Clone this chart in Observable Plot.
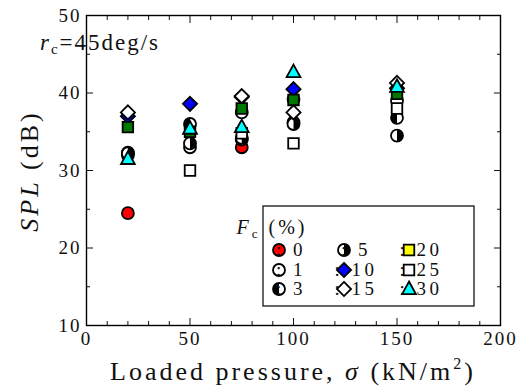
<!DOCTYPE html>
<html><head><meta charset="utf-8">
<script src="https://cdn.jsdelivr.net/npm/d3@7"></script>
<script src="https://cdn.jsdelivr.net/npm/@observablehq/plot@0.6"></script>
<style>
body{margin:0;background:#fff;}
</style></head><body><div id="chart"></div>
<script>
// ---- data ----
const pressure = [20, 50, 75, 100, 150];
const fcLabels = ["0", "1", "3", "5", "10", "15", "20", "25", "30"];
const fc0  = [24.5, null, 33.0, null, null];
const fc1  = [32.3, 33.0, 37.5, 39.2, 39.0];
const fc3  = [32.0, 36.0, 34.0, 36.2, 36.8];
const fc5  = [32.2, 33.5, 34.2, 36.0, 34.5];
const fc10 = [37.0, 38.6, 39.5, 40.5, 40.6];
const fc15 = [37.5, null, 39.6, 37.5, 41.3];
const fc20 = [35.6, 35.0, 38.0, 39.1, 39.9];
const fc25 = [null, 30.0, 34.8, 33.5, 38.0];
const fc30 = [31.5, 35.4, 35.6, 42.7, 40.8];
const xMajor = [0, 50, 100, 150, 200];
const xMinor = d3.range(10, 200, 10).filter(v => v % 50 !== 0);
const yMajor = [10, 20, 30, 40, 50];
const yMinor = [15, 25, 35, 45];

// ---- styles ----
const FONT = "Liberation Serif";
const R = 6, SW = 1.8;
function mk(f){ return {draw(c, size){ const r = Math.sqrt(size/Math.PI); f(c, r); }}; }
const SYM = {
  circle: mk((c,r)=>{ c.moveTo(r,0); c.arc(0,0,r,0,2*Math.PI); c.closePath(); }),
  halfL: mk((c,r)=>{ c.moveTo(0,-r); c.arc(0,0,r,-Math.PI/2,Math.PI/2,true); c.closePath(); }),
  halfR: mk((c,r)=>{ c.moveTo(0,-r); c.arc(0,0,r,-Math.PI/2,Math.PI/2,false); c.closePath(); }),
  diamond: mk((c,r)=>{ const d=r*1.18; c.moveTo(0,-d); c.lineTo(d,0); c.lineTo(0,d); c.lineTo(-d,0); c.closePath(); }),
  square: mk((c,r)=>{ const h=r*0.88; c.moveTo(-h,-h); c.lineTo(h,-h); c.lineTo(h,h); c.lineTo(-h,h); c.closePath(); }),
  triangle: mk((c,r)=>{ c.moveTo(0,-r*1.25); c.lineTo(r*1.15,r*0.85); c.lineTo(-r*1.15,r*0.85); c.closePath(); })
};
const style = {
  "0":  {shape:"circle", fill:"#ff0000"},
  "1":  {shape:"circle", fill:"#ffffff"},
  "3":  {shape:"circle", fill:"#ffffff", half:"halfL"},
  "5":  {shape:"circle", fill:"#ffffff", half:"halfR"},
  "10": {shape:"diamond", fill:"#0000ff"},
  "15": {shape:"diamond", fill:"#ffffff"},
  "20": {shape:"square", fill:"#007800", legendFill:"#ffff00"},
  "25": {shape:"square", fill:"#ffffff"},
  "30": {shape:"triangle", fill:"#00ffff"}
};
const valuesByFc = {"0":fc0,"1":fc1,"3":fc3,"5":fc5,"10":fc10,"15":fc15,"20":fc20,"25":fc25,"30":fc30};

const marks = [];
for (const fc of fcLabels) {
  const rows = pressure.map((p,j)=>({x:p, y:valuesByFc[fc][j]})).filter(d=>d.y!=null);
  const s = style[fc];
  marks.push(Plot.dot(rows, {x:"x", y:"y", r:R, symbol:SYM[s.shape], fill:s.fill, stroke:"black", strokeWidth:SW}));
  if (s.half) marks.push(Plot.dot(rows, {x:"x", y:"y", r:R, symbol:SYM[s.half], fill:"black"}));
}

const plot = Plot.plot({
  width: 520, height: 388,
  marginLeft: 86, marginRight: 20, marginTop: 15, marginBottom: 63,
  x: {domain: [0, 200]},
  y: {domain: [10, 50]},
  style: {fontFamily: FONT, background: "white", color: "#111"},
  marks: [
    Plot.axisX(xMajor, {tickSize: -7, tickFormat: () => "", label: null}),
    Plot.axisX(xMinor, {tickSize: -4, tickFormat: () => "", label: null}),
    Plot.axisX(xMajor, {anchor: "top", tickSize: -7, tickFormat: () => "", label: null}),
    Plot.axisX(xMinor, {anchor: "top", tickSize: -4, tickFormat: () => "", label: null}),
    Plot.axisY(yMajor, {tickSize: -7, tickFormat: () => "", label: null}),
    Plot.axisY(yMinor, {tickSize: -4, tickFormat: () => "", label: null}),
    Plot.axisY(yMajor, {anchor: "right", tickSize: -7, tickFormat: () => "", label: null}),
    Plot.axisY(yMinor, {anchor: "right", tickSize: -4, tickFormat: () => "", label: null}),
    Plot.axisX(xMajor, {tickSize: 0, tickPadding: 6, fontSize: 19, fontFamily: FONT, label: null}),
    Plot.axisY(yMajor, {tickSize: 0, tickPadding: 5, fontSize: 19, fontFamily: FONT, label: null}),
    ...marks,
    Plot.frame({stroke: "black", strokeWidth: 1.4})
  ]
});
document.getElementById("chart").appendChild(plot);
d3.select(plot).selectAll("[aria-label='x-axis tick label'] text, [aria-label='y-axis tick label'] text")
  .attr("font-family", FONT).style("letter-spacing", "2px");

// ---- annotations ----
const svg = d3.select(plot);
const g = svg.append("g").attr("fill", "#111");
function txt(parent, x, y, size) {
  return parent.append("text").attr("x", x).attr("y", y).attr("font-family", FONT)
    .attr("font-size", size).style("letter-spacing", "3px");
}

const ann = txt(g, 100, 50, 23).style("letter-spacing", "2px");
ann.append("tspan").attr("font-style", "italic").text("r");
ann.append("tspan").attr("font-size", 15).attr("dy", 4).text("c");
ann.append("tspan").attr("dy", -4).text("=45deg/s");

const xl = txt(g, 293, 380, 26).attr("text-anchor", "middle");
xl.append("tspan").text("Loaded pressure, ");
xl.append("tspan").attr("font-style", "italic").text("σ");
xl.append("tspan").text(" (kN/m");
xl.append("tspan").attr("font-size", 16).attr("dy", -11).text("2");
xl.append("tspan").attr("dy", 11).text(")");

const yl = txt(g, 0, 0, 26).attr("transform", "translate(38,171) rotate(-90)").attr("text-anchor", "middle");
yl.append("tspan").attr("font-style", "italic").text("SPL");
yl.append("tspan").text(" (dB)");

// ---- legend ----
const lg = g.append("g");
lg.append("rect").attr("x", 263).attr("y", 206).attr("width", 211).attr("height", 100).attr("fill", "white").attr("stroke", "black").attr("stroke-width", 1.2);
const lt = txt(lg, 272, 234, 20);
lt.append("tspan").attr("font-style", "italic").text("F");
lt.append("tspan").attr("font-size", 13).attr("dy", 4).text("c");
lt.append("tspan").attr("dy", -4).text(" (%)");
const colX = [279, 344, 409], rowY = [250, 270, 289];
fcLabels.forEach((fc, i) => {
  const cx = colX[Math.floor(i/3)], cy = rowY[i%3];
  const s = style[fc];
  const sym = d3.symbol().type(SYM[s.shape]).size(Math.PI*R*R);
  lg.append("path").attr("d", sym()).attr("transform", `translate(${cx},${cy})`)
    .attr("fill", s.legendFill || s.fill).attr("stroke", "black").attr("stroke-width", SW);
  if (s.half) lg.append("path").attr("d", d3.symbol().type(SYM[s.half]).size(Math.PI*R*R)()).attr("transform", `translate(${cx},${cy})`).attr("fill", "black");
  txt(lg, cx + 12, cy + 6, 19).style("letter-spacing", "3.5px").text(": " + fc);
});
</script></body></html>
